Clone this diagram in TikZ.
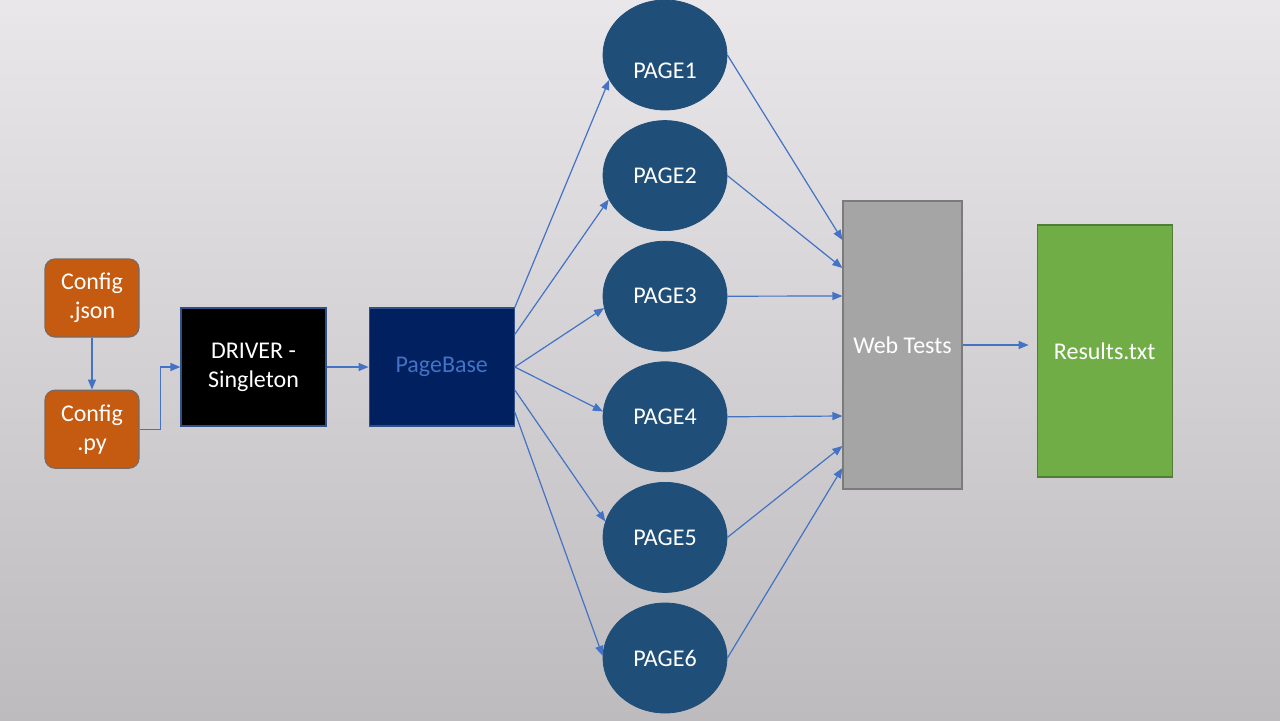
\documentclass[tikz,border=0pt]{standalone}
\usepackage{fontspec}
\setmainfont{Carlito}
\usepackage{tikz}
\usepackage{xcolor}
\usetikzlibrary{positioning}
\usetikzlibrary{arrows.meta}
\usetikzlibrary{shapes.geometric}

\definecolor{cfgorange}{HTML}{C55A11}
\definecolor{cfgborder}{HTML}{7A6A60}
\definecolor{pagenavy}{HTML}{002060}
\definecolor{pageblue}{HTML}{1F4E79}
\definecolor{linkblue}{HTML}{4472C4}
\definecolor{webgray}{HTML}{A5A5A5}
\definecolor{webborder}{HTML}{7B7B7B}
\definecolor{resgreen}{HTML}{70AD47}
\definecolor{resborder}{HTML}{507E32}
\definecolor{bgtop}{HTML}{E9E7E9}
\definecolor{bgbottom}{HTML}{BDBBBD}

\begin{document}
\begin{tikzpicture}[x=1pt, y=1pt, font=\fontsize{12}{14.5}\selectfont,
	flow/.style={draw=linkblue, line width=0.6pt, -{Triangle[length=5pt,width=4pt]}},
	config node/.style={draw=cfgborder, fill=cfgorange, text=white, rounded corners=5pt,
		minimum width=47pt, minimum height=39pt, inner sep=1pt, align=center, line width=0.6pt},
	block node/.style={draw=linkblue!70!black, minimum width=72.5pt, minimum height=59pt,
		inner sep=1pt, align=center, line width=0.6pt},
	page node/.style={ellipse, draw=pageblue, fill=pageblue, text=white,
		minimum width=62pt, minimum height=55pt, inner sep=0pt}]

  % background
  \shade[top color=bgtop, bottom color=bgbottom] (0,0) rectangle (640,360);
  \useasboundingbox (0,0) rectangle (640,360);

  \node[config node] (json) at (46,211) {Config\\.json};
  \node[config node] (py) [below=26pt of json] {Config\\.py};
  \node[block node, fill=black, text=white] (driver) at (126.75,176.5) {DRIVER -\\Singleton};
  \node[block node, fill=pagenavy, text=linkblue] (pagebase) [right=21pt of driver] {PageBase};

  \node[page node, text height=23pt, text depth=0pt] (page1) at (332.5,332.5) {PAGE1};
  \node[page node] (page2) [below=4.9pt of page1] {PAGE2};
  \node[page node] (page3) [below=4.9pt of page2] {PAGE3};
  \node[page node] (page4) [below=4.9pt of page3] {PAGE4};
  \node[page node] (page5) [below=4.9pt of page4] {PAGE5};
  \node[page node] (page6) [below=4.9pt of page5] {PAGE6};

  \node[draw=webborder, fill=webgray, text=white, minimum width=59.5pt, minimum height=144pt,
  	line width=0.6pt] (webtests) at (451.25,187.5) {Web Tests};
  \node[draw=resborder, fill=resgreen, text=white, minimum width=67.5pt, minimum height=126pt,
  	line width=0.6pt] (results) [right=37pt of webtests, yshift=-3pt] {Results.txt};

  \draw[flow] (json) -- (py);
  \draw[flow] (py.east) -- ++(10.5,0) |- (driver.west);
  \draw[flow] (driver.east) -- (pagebase.west);

  \draw[flow] (pagebase.north east) -- (page1.204);
  \draw[flow] ([yshift=-13.5pt]pagebase.north east) -- (page2.203);
  \draw[flow] (pagebase.east) -- (page3.191);
  \draw[flow] (pagebase.east) -- (page4.175);
  \draw[flow] ([yshift=-11.5pt]pagebase.east) -- (page5.165);
  \draw[flow] ([yshift=-22.5pt]pagebase.east) -- (page6.178);

  \draw[flow] (page1.east) -- ([yshift=52.5pt]webtests.west);
  \draw[flow] (page2.east) -- ([yshift=38.5pt]webtests.west);
  \draw[flow] (page3.east) -- ([yshift=24.5pt]webtests.west);
  \draw[flow] (page4.east) -- ([yshift=-35.5pt]webtests.west);
  \draw[flow] (page5.east) -- ([yshift=-50.5pt]webtests.west);
  \draw[flow] (page6.east) -- ([yshift=-61.5pt]webtests.west);

  \draw[flow, shorten >=4pt] (webtests.east) -- (webtests.east -| results.west);
\end{tikzpicture}
\end{document}
